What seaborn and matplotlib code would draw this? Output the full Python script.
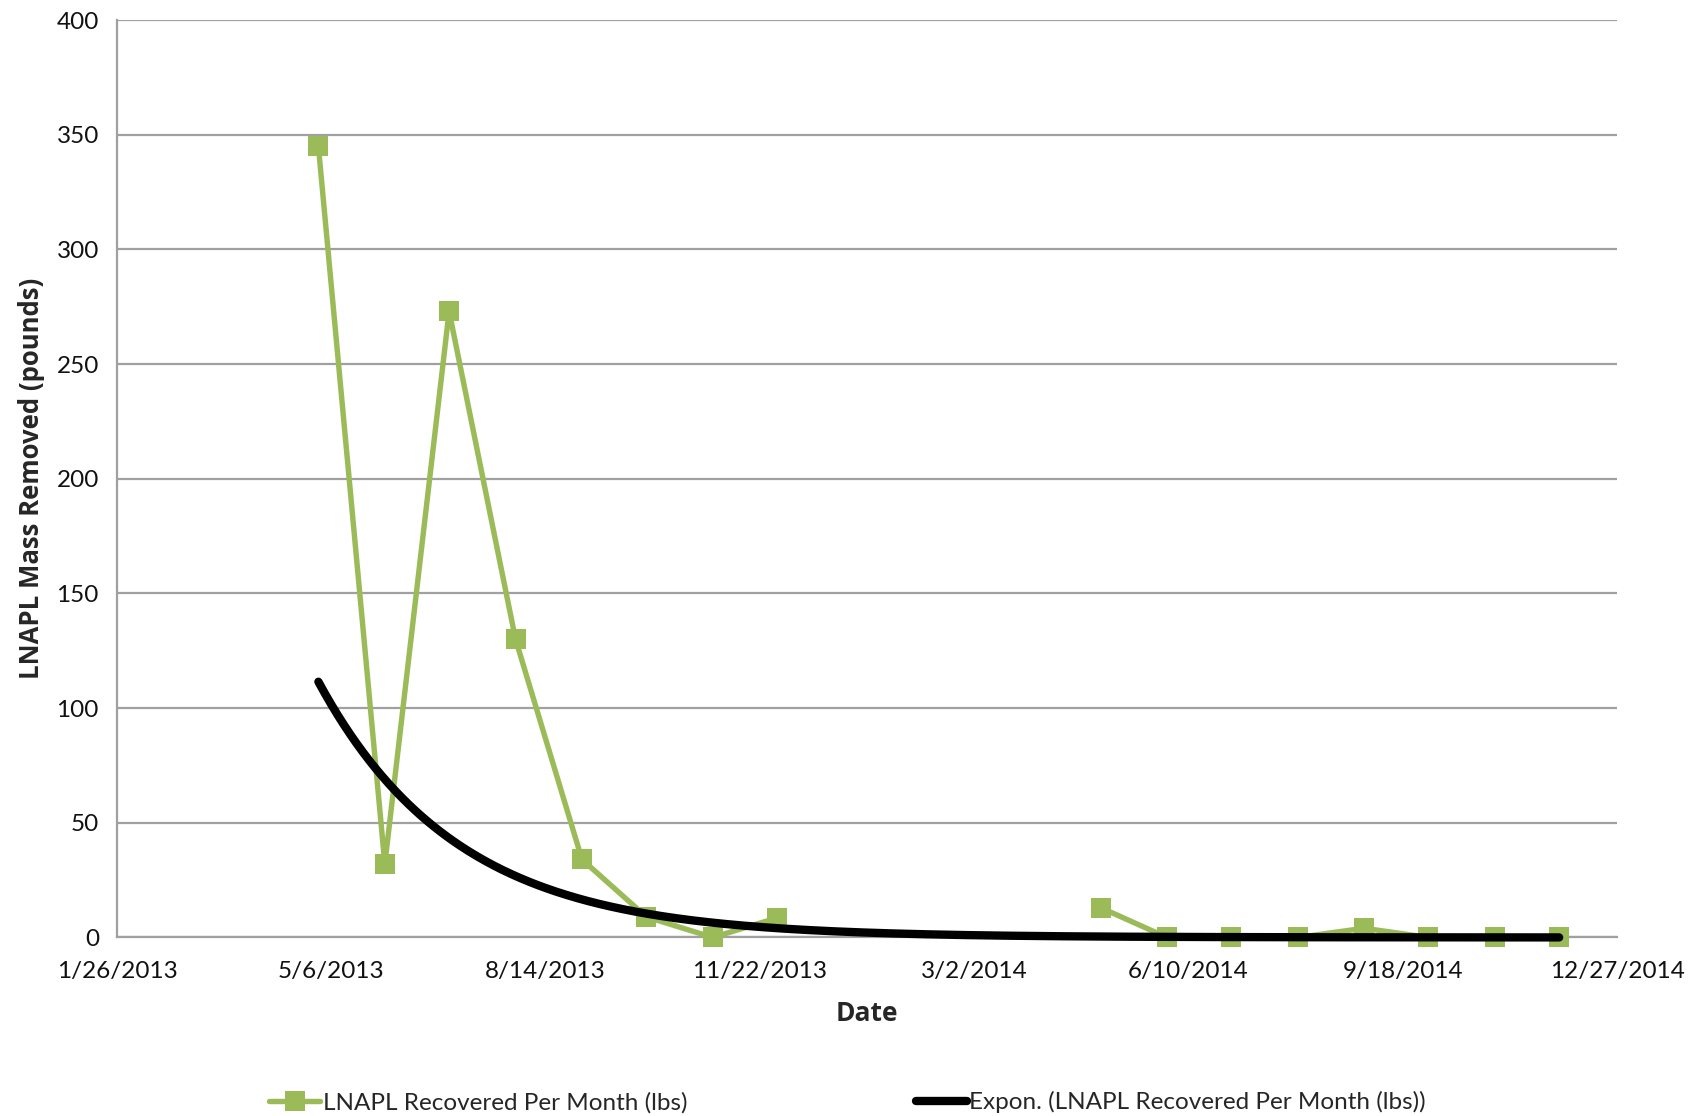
import numpy as np
import pandas as pd
import matplotlib
matplotlib.use("Agg")
import matplotlib.pyplot as plt
from matplotlib.lines import Line2D
import seaborn as sns

# monthly LNAPL recovery (NaN = no reading, gap in line)
dates = ["2013-04-30", "2013-05-31", "2013-06-30", "2013-07-31", "2013-08-31",
         "2013-09-30", "2013-10-31", "2013-11-30", "2013-12-31", "2014-01-31",
         "2014-02-28", "2014-03-31", "2014-04-30", "2014-05-31", "2014-06-30",
         "2014-07-31", "2014-08-31", "2014-09-30", "2014-10-31", "2014-11-30"]
lbs = [345, 32, 273, 130, 34, 9, 0, 8.5, np.nan, np.nan,
       np.nan, np.nan, 13, 0, 0, 0, 4, 0, 0, 0]

# exponential trendline parameters (value at first date, decay per day)
trend_start = 111.5
trend_rate = 0.0155

xtick_start = "2013-01-26"
xtick_step_days = 100
n_xticks = 8
yticks = [0, 50, 100, 150, 200, 250, 300, 350, 400]

green = "#9BBB59"
grid_col = "#A0A0A0"

df = pd.DataFrame({"date": pd.to_datetime(dates), "lbs": lbs})
df["seg"] = df["lbs"].isna().cumsum()
df = df.dropna()

t = pd.date_range(dates[0], dates[-1], freq="D")
trend = pd.DataFrame({"date": t,
                      "lbs": trend_start * np.exp(-trend_rate * (t - t[0]).days.values)})

sns.set_style("white")
plt.rcParams["font.family"] = ["Lato", "DejaVu Sans"]

fig, ax = plt.subplots(figsize=(16.95, 11.16), dpi=100)
fig.subplots_adjust(left=0.069, right=0.954, top=0.982, bottom=0.16)

sns.lineplot(data=df, x="date", y="lbs", units="seg", estimator=None,
             color=green, lw=3.9, marker="s", markersize=14, markeredgewidth=0,
             ax=ax, zorder=3, clip_on=False)
sns.lineplot(data=trend, x="date", y="lbs", color="black", lw=6,
             ax=ax, zorder=4, solid_capstyle="round", clip_on=False)

x0 = pd.Timestamp(xtick_start)
xt = [x0 + pd.Timedelta(days=xtick_step_days * i) for i in range(n_xticks)]
ax.set_xlim(xt[0], xt[-1])
ax.set_xticks(xt)
ax.set_xticklabels([f"{d.month}/{d.day}/{d.year}" for d in xt])
ax.set_ylim(0, 400)
ax.set_yticks(yticks)

ax.yaxis.grid(True, color=grid_col, lw=1.6)
ax.set_axisbelow(True)
for s in ["top", "right"]:
    ax.spines[s].set_visible(False)
for s in ["left", "bottom"]:
    ax.spines[s].set_color(grid_col)
    ax.spines[s].set_linewidth(1.6)
ax.tick_params(axis="both", which="major", direction="out", length=7,
               width=1.6, color=grid_col, labelsize=17.5, labelcolor="#111111")
ax.tick_params(axis="x", pad=10)
ax.tick_params(axis="y", pad=6)

ax.set_xlabel("Date", fontsize=19, fontweight="bold", family=["Open Sans", "DejaVu Sans"], labelpad=13)
ax.set_ylabel("LNAPL Mass Removed (pounds)", fontsize=18.5, fontweight="bold",
              family=["Open Sans", "DejaVu Sans"], labelpad=8)

handles = [Line2D([], [], color=green, lw=3.9, marker="s", markersize=14, markeredgewidth=0),
           Line2D([], [], color="black", lw=6, solid_capstyle="round")]
fig.legend(handles, ["LNAPL Recovered Per Month (lbs)",
                     "Expon. (LNAPL Recovered Per Month (lbs))"],
           loc="lower center", bbox_to_anchor=(0.5, -0.017), ncol=2, frameon=False,
           fontsize=17.5, handlelength=2.1, handletextpad=0.1, columnspacing=9.4)

fig.savefig("out.png", dpi=100)
